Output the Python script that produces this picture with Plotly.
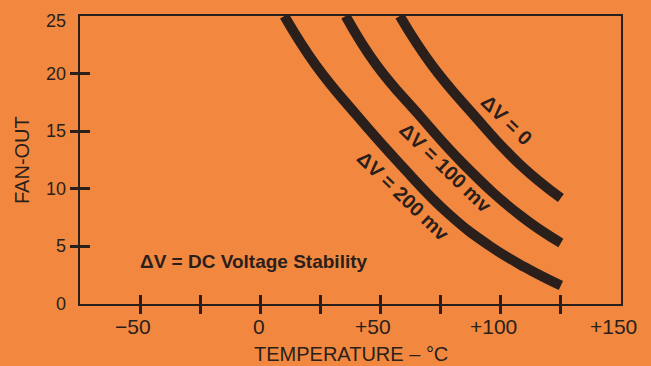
import plotly.graph_objects as go

# Fan-out capability vs. temperature for three DC voltage stability margins
temp_0mv = [58, 71.3, 88.8, 108, 125]
fanout_0mv = [25, 20.75, 16.4, 12.1, 9.2]

temp_100mv = [35.5, 48.3, 66, 84.7, 108, 125]
fanout_100mv = [25, 20.75, 16.4, 12.1, 7.7, 5.3]

temp_200mv = [10, 23, 40, 58.3, 78.4, 95, 110, 125]
fanout_200mv = [25, 20.75, 16.4, 12.1, 7.8, 5.1, 3.2, 1.6]

curve_labels = ["ΔV = 0", "ΔV = 100 mv", "ΔV = 200 mv"]

x_tick_marks = [-50, -25, 0, 25, 50, 75, 100, 125]
x_tick_vals = [-50, 0, 50, 100, 150]
x_tick_text = ["−50", "0", "+50", "+100", "+150"]

y_tick_marks = [5, 10, 15, 20]
y_tick_vals = [0, 5, 10, 15, 20, 25]
y_tick_text = ["0", "5", "10", "15", "20", "25"]

BG = "#F2883F"
INK = "#2a1f1b"
FONT = "Liberation Sans, Arial, sans-serif"

fig = go.Figure()

for xs, ys in [(temp_0mv, fanout_0mv), (temp_100mv, fanout_100mv), (temp_200mv, fanout_200mv)]:
    fig.add_trace(go.Scatter(
        x=xs, y=ys, mode="lines",
        line=dict(color=INK, width=10, shape="spline", smoothing=1.3),
        showlegend=False, hoverinfo="skip",
    ))

# empty trace so the overlay axes (inner half of the crossing ticks) get drawn
fig.add_trace(go.Scatter(x=[None], y=[None], xaxis="x2", yaxis="y2",
                         showlegend=False, hoverinfo="skip"))

axis_common = dict(showgrid=False, zeroline=False, showticklabels=False,
                   tickwidth=3, tickcolor=INK)

fig.update_layout(
    width=651, height=366,
    margin=dict(l=80, r=30, t=16, b=62),
    paper_bgcolor=BG, plot_bgcolor=BG,
    font=dict(family=FONT, color=INK),
    xaxis=dict(range=[-75, 150], showline=True, mirror=True, linewidth=2,
               linecolor=INK, tickvals=x_tick_marks, ticks="outside",
               ticklen=8, **axis_common),
    yaxis=dict(range=[0, 25], showline=True, mirror=True, linewidth=2,
               linecolor=INK, tickvals=y_tick_marks, ticks="outside",
               ticklen=8, **axis_common),
    xaxis2=dict(range=[-75, 150], overlaying="x", anchor="y2", side="bottom",
                tickvals=x_tick_marks, ticks="inside", ticklen=9,
                showline=False, **axis_common),
    yaxis2=dict(range=[0, 25], overlaying="y", anchor="x2", side="left",
                tickvals=y_tick_marks, ticks="inside", ticklen=10,
                showline=False, **axis_common),
)

annotations = []

# x tick labels: digits centred on the tick, sign hanging to the left
for v, t in zip(x_tick_vals, x_tick_text):
    n_digits = sum(ch.isdigit() for ch in t)
    annotations.append(dict(
        x=v, y=0, xref="x", yref="paper", text=t, showarrow=False,
        xanchor="right", yanchor="middle", xshift=n_digits * 5.8 + 1, yshift=-22,
        font=dict(size=21, family=FONT, color=INK),
    ))

# y tick labels (the top one sits just below the frame corner)
for v, t in zip(y_tick_vals, y_tick_text):
    annotations.append(dict(
        x=0, y=v, xref="paper", yref="y", text=t, showarrow=False,
        xanchor="right", yanchor="middle", xshift=-12,
        yshift=-5 if v == max(y_tick_vals) else 0,
        font=dict(size=18, family=FONT, color=INK),
    ))

# axis titles
annotations.append(dict(
    x=0.5, y=0, xref="paper", yref="paper", text="TEMPERATURE – °C",
    showarrow=False, xanchor="center", yanchor="middle", yshift=-50,
    font=dict(size=20, family=FONT, color=INK),
))
annotations.append(dict(
    x=0, y=0.5, xref="paper", yref="paper", text="FAN-OUT", textangle=-90,
    showarrow=False, xanchor="center", yanchor="middle", xshift=-58,
    font=dict(size=20, family=FONT, color=INK),
))

# legend note
annotations.append(dict(
    x=-51, y=3.7, xref="x", yref="y", text="ΔV = DC Voltage Stability",
    showarrow=False, xanchor="left", yanchor="middle",
    font=dict(size=19, family=FONT, color=INK, weight="bold"),
))

# labels running along the curves
for (lx, ly), t in zip([(102.5, 16.0), (77.2, 11.8), (59.5, 9.4)], curve_labels):
    annotations.append(dict(
        x=lx, y=ly, xref="x", yref="y", text=t, textangle=44,
        showarrow=False, xanchor="center", yanchor="middle",
        font=dict(size=20, family=FONT, color=INK, weight="bold"),
    ))

fig.update_layout(annotations=annotations)

fig.write_html("out.html")
